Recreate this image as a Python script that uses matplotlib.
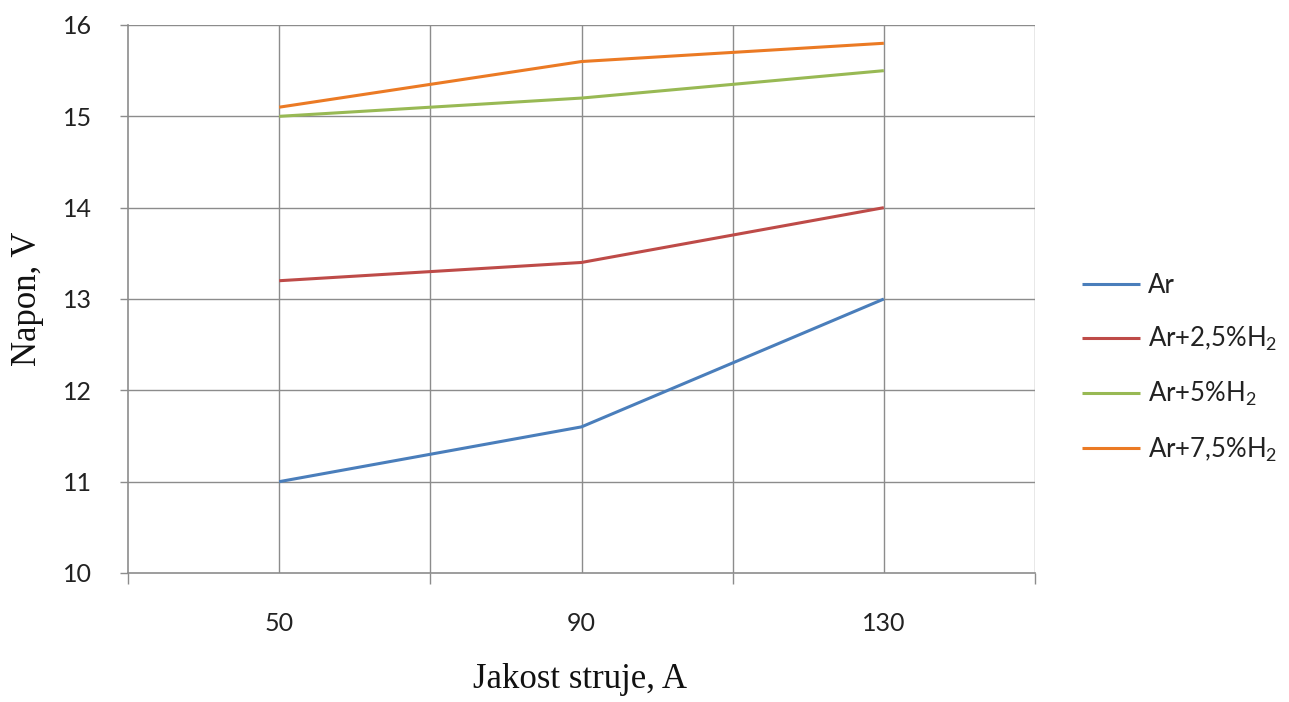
import matplotlib
matplotlib.use("Agg")
import matplotlib.pyplot as plt
import numpy as np

# data
currents = ['50', '90', '130']
ar = [11.0, 11.6, 13.0]
ar_h25 = [13.2, 13.4, 14.0]
ar_h5 = [15.0, 15.2, 15.5]
ar_h75 = [15.1, 15.6, 15.8]

series = [
    (ar, 'Ar', '#4A7EBB'),
    (ar_h25, 'Ar+2,5%H$_2$', '#BE4B48'),
    (ar_h5, 'Ar+5%H$_2$', '#98B954'),
    (ar_h75, 'Ar+7,5%H$_2$', '#EB7A24'),
]

plt.rcParams['mathtext.fontset'] = 'custom'
plt.rcParams['mathtext.rm'] = 'Lato'
plt.rcParams['mathtext.it'] = 'Lato'

W, H = 1289, 702
fig = plt.figure(figsize=(W/100, H/100), dpi=100)
ax = fig.add_axes([128/W, 1-573/H, (1035-128)/W, (573-25)/H])

x = np.arange(len(currents))
for vals, name, col in series:
    ax.plot(x, vals, color=col, lw=2.2, label=name, solid_capstyle='butt')

grid_col = '#8C8C8C'
ax.set_xlim(-0.5, len(currents) - 0.5)
ax.set_ylim(10, 16)
for xv in np.arange(-0.5, len(currents), 0.5)[1:]:
    ax.axvline(xv, color=grid_col, lw=1.0, zorder=0)
for yv in range(11, 17):
    ax.axhline(yv, color=grid_col, lw=1.0, zorder=0)

for s in ['top', 'right']:
    ax.spines[s].set_visible(False)
for s in ['left', 'bottom']:
    ax.spines[s].set_color(grid_col)
    ax.spines[s].set_linewidth(1.2)

tick_font = dict(family='Lato', size=18, color='#222222')
ax.set_xticks(np.arange(-0.5, len(currents), 1.0))
ax.set_xticklabels([])
ax.tick_params(axis='x', which='major', direction='out', length=8, color=grid_col, width=1)
ax.set_xticks(x, minor=True)
ax.set_xticklabels(currents, minor=True, **tick_font)
ax.tick_params(axis='x', which='minor', length=0, pad=28)

ax.set_yticks(range(10, 17))
ax.set_yticklabels([str(v) for v in range(10, 17)], **tick_font)
ax.tick_params(axis='y', direction='out', length=6, color=grid_col, width=1, pad=20)

fig.text(580/W, 1-680/H, 'Jakost struje, A', family='Liberation Serif', size=25,
         ha='center', va='center', color='#111111')
fig.text(27/W, 1-299/H, 'Napon, V', family='Liberation Serif', size=25,
         ha='center', va='center', rotation=90, color='#111111')

leg = ax.legend(loc='upper left', bbox_to_anchor=(1082/W, 1-273/H), bbox_transform=fig.transFigure,
                frameon=False, prop=dict(family='Lato', size=18.5), handlelength=2.25,
                handletextpad=0.3, labelspacing=1.05, borderpad=0, borderaxespad=0)
for t in leg.get_texts():
    t.set_color('#222222')

fig.savefig('out.png', dpi=100)
